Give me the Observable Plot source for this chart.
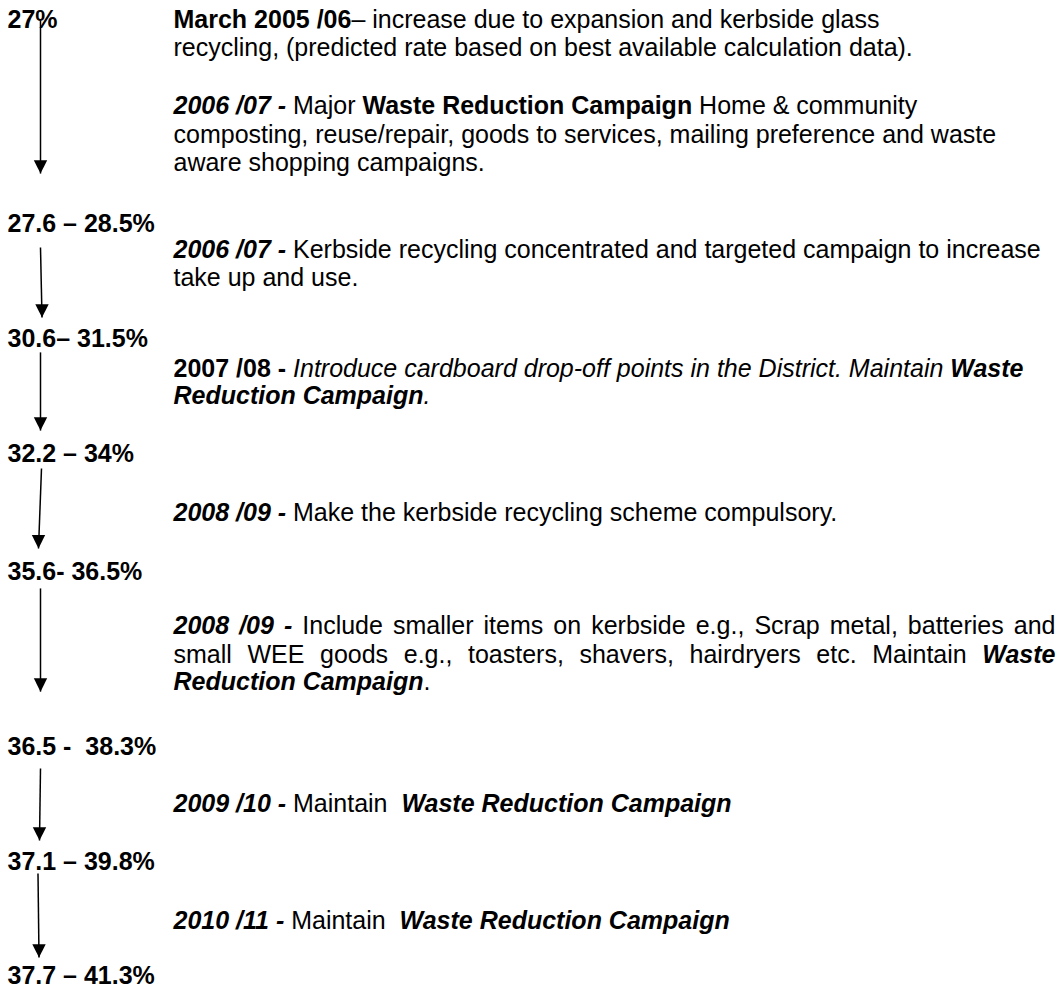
<!DOCTYPE html>
<html><head><meta charset="utf-8">
<script src="https://cdn.jsdelivr.net/npm/d3@7"></script>
<script src="https://cdn.jsdelivr.net/npm/@observablehq/plot@0.6"></script>
<style>html,body{margin:0;padding:0;background:#fff;} #chart svg{display:block;}</style>
</head><body><div id="chart"></div>
<script>
// Recycling-rate milestones (left column)
const rateLabels = ["27%", "27.6 – 28.5%", "30.6– 31.5%", "32.2 – 34%", "35.6- 36.5%", "36.5 -  38.3%", "37.1 – 39.8%", "37.7 – 41.3%"];
const rateRows = [0, 7.1, 11.13, 15.13, 19.2, 25.29, 29.32, 33.28];

// Arrows between milestones (document rows / x positions)
const arrowFromRow = [-0.24, 7.65, 11.3, 15.34, 19.51, 25.77, 29.43];
const arrowToRow   = [5.08, 10.09, 14.02, 18.12, 23.1, 28.28, 32.35];
const arrowFromX   = [40, 40, 40, 41, 40, 40, 37.5];
const arrowToX     = [40, 41.5, 40, 38, 40, 39, 38.5];

// Notes (right column): each line is a list of [style, text] runs
const noteLines = [
  [["b", "March 2005 /06"], ["r", "– increase due to expansion and kerbside glass"]],
  [["r", "recycling, (predicted rate based on best available calculation data)."]],
  [["bi", "2006 /07 -"], ["r", " Major "], ["b", "Waste Reduction Campaign"], ["r", " Home & community"]],
  [["r", "composting, reuse/repair, goods to services, mailing preference and waste"]],
  [["r", "aware shopping campaigns."]],
  [["bi", "2006 /07 -"], ["r", " Kerbside recycling concentrated and targeted campaign to increase"]],
  [["r", "take up and use."]],
  [["b", "2007 /08 - "], ["i", "Introduce cardboard drop-off points in the District. Maintain "], ["bi", "Waste"]],
  [["bi", "Reduction Campaign"], ["i", "."]],
  [["bi", "2008 /09 -"], ["r", " Make the kerbside recycling scheme compulsory."]],
  [["bi", "2008 /09 -"], ["r", " Include smaller items on kerbside e.g., Scrap metal, batteries and"]],
  [["r", "small WEE goods e.g., toasters, shavers, hairdryers etc. Maintain "], ["bi", "Waste"]],
  [["bi", "Reduction Campaign"], ["r", "."]],
  [["bi", "2009 /10 -"], ["r", " Maintain  "], ["bi", "Waste Reduction Campaign"]],
  [["bi", "2010 /11 -"], ["r", " Maintain  "], ["bi", "Waste Reduction Campaign"]]
];
const noteRows = [0, 1, 3, 4, 5, 8, 9, 12.14, 13.11, 17.15, 21.11, 22.09, 23.06, 27.27, 31.34];
const noteJustified = [false, false, false, false, false, false, false, false, false, false, true, true, false, false, false];

// ---- layout helpers ----
const FONT = "Liberation Sans";
const SIZE = 25;
const LABEL_X = 7, NOTE_X = 173, NOTE_RIGHT = 1055;
const ctx = document.createElement("canvas").getContext("2d");
function canvasFont(st) {
  return `${st.includes("i") ? "italic" : "normal"} normal ${st.includes("b") ? "bold" : "normal"} ${SIZE}px "${FONT}"`;
}
function measure(st, t) { ctx.font = canvasFont(st); return ctx.measureText(t).width; }

function layoutLine(segs, x0, row, justifyRight) {
  const toks = [];
  for (const [st, txt] of segs) {
    for (const t of txt.split(/( +)/)) if (t) toks.push({st, t, space: /^ +$/.test(t), w: measure(st, t)});
  }
  const total = d3.sum(toks, d => d.w);
  const spaceToks = toks.filter((d, i) => d.space && i > 0 && i < toks.length - 1).length;
  const extra = justifyRight && spaceToks ? (justifyRight - x0 - total) / spaceToks : 0;
  let x = x0;
  const out = [];
  toks.forEach(d => {
    if (d.space) { x += d.w + extra; }
    else { out.push({x, row, text: d.t, style: d.st}); x += d.w; }
  });
  return out;
}

const tokens = [];
rateLabels.forEach((lab, i) => tokens.push(...layoutLine([["b", lab]], LABEL_X, rateRows[i], null)));
noteLines.forEach((segs, i) => tokens.push(...layoutLine(segs, NOTE_X, noteRows[i], noteJustified[i] ? NOTE_RIGHT : null)));

const arrows = arrowFromRow.map((r, i) => ({x1: arrowFromX[i], y1: r, x2: arrowToX[i], y2: arrowToRow[i]}));

const downHead = {
  draw(context, size) {
    const r = Math.sqrt(size / Math.PI);
    context.moveTo(-r, -2 * r);
    context.lineTo(r, -2 * r);
    context.lineTo(0, 0);
    context.closePath();
  }
};

const styleDefs = [["r", "normal", "normal"], ["b", "bold", "normal"], ["i", "normal", "italic"], ["bi", "bold", "italic"]];

const LINE = 28.75, BASE0 = 27;
const chart = Plot.plot({
  width: 1062,
  height: 989,
  margin: 0,
  x: {type: "identity", axis: null},
  y: {type: "linear", domain: [0, 1], range: [BASE0, BASE0 + LINE], axis: null},
  style: {background: "white"},
  marks: [
    Plot.link(arrows, {x1: "x1", y1: "y1", x2: "x2", y2: "y2", stroke: "black", strokeWidth: 1.5}),
    Plot.dot(arrows, {x: "x2", y: "y2", r: 6.7, symbol: downHead, fill: "black", stroke: "none"}),
    ...styleDefs.map(([k, w, s]) => Plot.text(tokens.filter(d => d.style === k), {
      x: "x", y: "row", text: "text", textAnchor: "start", lineAnchor: "bottom",
      fontSize: SIZE, fontFamily: FONT, fontWeight: w, fontStyle: s, fill: "black"
    }))
  ]
});
document.getElementById("chart").appendChild(chart);
</script>
</body></html>
